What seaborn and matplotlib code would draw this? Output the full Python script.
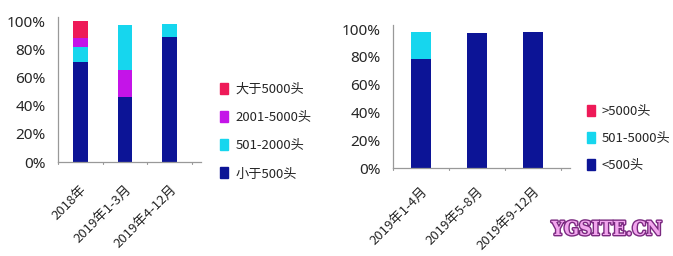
import numpy as np
import matplotlib
matplotlib.use("Agg")
import matplotlib.pyplot as plt
import matplotlib.patheffects as pe
import matplotlib.transforms as mtrans
from matplotlib.patches import Patch
import seaborn as sns

# ---- data ----
left_cats = ["2018年", "2019年1-3月", "2019年4-12月"]
left_lt500 = [70.7, 46.3, 88.9]
left_501_2000 = [11.1, 32.0, 8.9]
left_2001_5000 = [6.6, 19.2, 0.0]
left_gt5000 = [11.6, 0.0, 0.0]
left_labels = ["小于500头", "501-2000头", "2001-5000头", "大于5000头"]
# stacking order of series (index into series list) per category
left_stack_order = [[0, 1, 2, 3], [0, 2, 1, 3], [0, 1, 2, 3]]

right_cats = ["2019年1-4月", "2019年5-8月", "2019年9-12月"]
right_lt500 = [78.2, 96.9, 97.6]
right_501_5000 = [20.1, 0.0, 0.0]
right_gt5000 = [0.0, 0.0, 0.0]
right_labels = ["<500头", "501-5000头", ">5000头"]
right_stack_order = [[0, 1, 2], [0, 1, 2], [0, 1, 2]]

yticks = [0, 20, 40, 60, 80, 100]
ytick_labels = ["0%", "20%", "40%", "60%", "80%", "100%"]

NAVY = "#0C1496"
CYAN = "#16D6EE"
MAGENTA = "#C414E8"
RED = "#EE1A58"

sns.set_style("white")
plt.rcParams["font.family"] = ["Noto Sans CJK SC", "DejaVu Sans"]

fig = plt.figure(figsize=(6.73, 2.56), dpi=100)
W, H = 673, 256


def ax_at(x0, y0, x1, y1):
    return fig.add_axes([x0 / W, 1 - y1 / H, (x1 - x0) / W, (y1 - y0) / H])


def draw(ax, cats, series, colors, orders, width, xmax, xpad):
    series = [np.asarray(s, float) for s in series]
    n = len(cats)
    bottoms = np.zeros((len(series), n))
    for j in range(n):
        acc = 0.0
        for k in orders[j]:
            bottoms[k, j] = acc
            acc += series[k][j]
    for k, (vals, col) in enumerate(zip(series, colors)):
        sns.barplot(x=cats, y=vals, bottom=bottoms[k], color=col,
                    width=width, saturation=1, ax=ax, linewidth=0,
                    order=cats)
    ax.set_xlim(-0.5, xmax)
    ax.set_ylim(0, 103)
    ax.set_yticks(yticks)
    ax.set_yticklabels(ytick_labels, fontsize=11, family="Noto Sans")
    ax.set_xticks(range(n))
    ax.set_xticklabels(cats, rotation=45, ha="right", va="top",
                       rotation_mode="anchor", fontsize=9.5)
    off = mtrans.ScaledTranslation(4 / 100, 0, fig.dpi_scale_trans)
    for lab in ax.get_xticklabels():
        lab.set_transform(lab.get_transform() + off)
    ax.tick_params(axis="x", length=0, pad=xpad)
    ax.tick_params(axis="y", length=0, pad=9)
    for b in np.arange(-0.5, n, 1.0):
        ax.plot([b, b], [0, -1.5], color="#999999", lw=0.8, clip_on=False)
    for s in ["top", "right"]:
        ax.spines[s].set_visible(False)
    for s in ["left", "bottom"]:
        ax.spines[s].set_color("#999999")
        ax.spines[s].set_linewidth(0.9)
    ax.set_xlabel("")
    ax.set_ylabel("")


ax1 = ax_at(58, 17, 201, 162)
draw(ax1, left_cats, [left_lt500, left_501_2000, left_2001_5000, left_gt5000],
     [NAVY, CYAN, MAGENTA, RED], left_stack_order, 0.33, 2.7, 15)

ax2 = ax_at(393, 25, 570, 168)
draw(ax2, right_cats, [right_lt500, right_501_5000, right_gt5000],
     [NAVY, CYAN, RED], right_stack_order, 0.37, 2.66, 12)

h1 = [Patch(color=c, label=l) for c, l in
      zip([RED, MAGENTA, CYAN, NAVY], left_labels[::-1])]
fig.legend(handles=h1, loc="upper left", bbox_to_anchor=(208 / W, 1 - 71 / H),
           frameon=False, fontsize=9.5, labelspacing=1.15, handlelength=0.6,
           handleheight=0.9, handletextpad=0.6)

h2 = [Patch(color=c, label=l) for c, l in
      zip([RED, CYAN, NAVY], right_labels[::-1])]
fig.legend(handles=h2, loc="upper left", bbox_to_anchor=(575 / W, 1 - 93 / H),
           frameon=False, fontsize=9.5, labelspacing=1.08, handlelength=0.6,
           handleheight=0.9, handletextpad=0.5)

fig.text(607 / W, 1 - 230 / H, "YGSITE.CN", ha="center", va="center",
         fontsize=14, fontweight="bold", color="#F2A6EE",
         family="DejaVu Serif", fontstretch="condensed",
         path_effects=[pe.withStroke(linewidth=2, foreground="#7A2A80")])

fig.savefig("out.png", dpi=100)
